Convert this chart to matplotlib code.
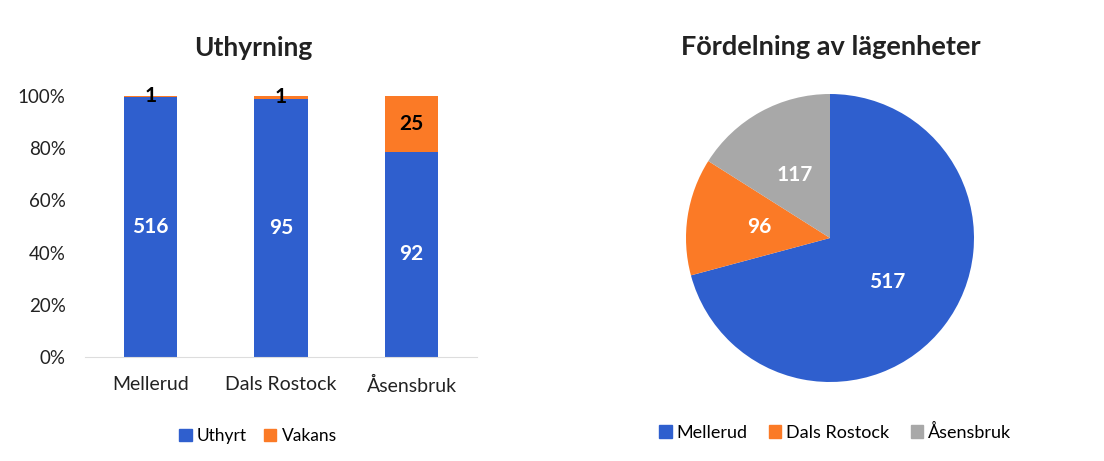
import matplotlib
matplotlib.use("Agg")
import matplotlib.pyplot as plt
from matplotlib.patches import Patch
import numpy as np

plt.rcParams['font.family'] = ['Lato', 'DejaVu Sans']

# data
places = ["Mellerud", "Dals Rostock", "Åsensbruk"]
uthyrt = [516, 95, 92]
vakans = [1, 1, 25]
lagenheter = [517, 96, 117]
pct_ticks = [0, 20, 40, 60, 80, 100]

BLUE = "#2f5fce"
ORANGE = "#fb7a26"
GRAY = "#a8a8a8"
TXT = "#222222"

W, H = 1104, 461
fig = plt.figure(figsize=(W / 100, H / 100), dpi=100)


def px_axes(left, top, right, bottom):
    return fig.add_axes([left / W, 1 - bottom / H, (right - left) / W, (bottom - top) / H])


# ---- left: stacked 100% bars ----
ax = px_axes(85, 96, 477, 357)
tot = np.array(uthyrt) + np.array(vakans)
share_u = np.array(uthyrt) / tot
share_v = np.array(vakans) / tot
x = np.arange(len(places))
ax.bar(x, share_u, width=0.41, color=BLUE)
ax.bar(x, share_v, width=0.41, bottom=share_u, color=ORANGE)

for i in range(len(places)):
    ax.text(x[i], share_u[i] / 2, str(uthyrt[i]), ha="center", va="center",
            color="white", fontsize=15, fontweight="bold")
    ax.text(x[i], share_u[i] + share_v[i] / 2, str(vakans[i]), ha="center",
            va="center", color="black", fontsize=15, fontweight="bold")

ax.set_xlim(-0.5, 2.5)
ax.set_ylim(0, 1)
ax.set_yticks([t / 100 for t in pct_ticks])
ax.set_yticklabels([f"{t}%" for t in pct_ticks], fontsize=13.5, color=TXT)
ax.set_xticks(x)
ax.set_xticklabels(places, fontsize=14, color=TXT)
ax.tick_params(length=0)
ax.tick_params(axis="y", pad=14)
ax.tick_params(axis="x", pad=14)
for s in ["top", "right", "left"]:
    ax.spines[s].set_visible(False)
ax.spines["bottom"].set_color("#dddddd")

fig.text(253 / W, 1 - 48 / H, "Uthyrning", ha="center", va="center",
         fontsize=19, fontweight="bold", color=TXT)
fig.legend(handles=[Patch(color=BLUE, label="Uthyrt"), Patch(color=ORANGE, label="Vakans")],
           loc="center", bbox_to_anchor=(258 / W, 1 - 436 / H), ncol=2, frameon=False,
           fontsize=12.5, handlelength=0.7, handleheight=0.7, handletextpad=0.3,
           columnspacing=1.0)

# ---- right: pie ----
pax = px_axes(686, 94, 974, 382)
wedges, texts = pax.pie(lagenheter, colors=[BLUE, ORANGE, GRAY], startangle=90,
                        counterclock=False, labels=[str(v) for v in lagenheter],
                        labeldistance=0.5)
for t in texts:
    t.set_color("white")
    t.set_fontsize(15)
    t.set_fontweight("bold")
    t.set_ha("center")
    t.set_va("center")
pax.set_xlim(-1, 1)
pax.set_ylim(-1, 1)

fig.text(831 / W, 1 - 47 / H, "Fördelning av lägenheter", ha="center", va="center",
         fontsize=19.5, fontweight="bold", color=TXT)
fig.legend(handles=[Patch(color=c, label=l) for c, l in zip([BLUE, ORANGE, GRAY], places)],
           loc="center", bbox_to_anchor=(835 / W, 1 - 432 / H), ncol=3, frameon=False,
           fontsize=13, handlelength=0.7, handleheight=0.7, handletextpad=0.25,
           columnspacing=1.2)

fig.savefig("out.png", dpi=100)
